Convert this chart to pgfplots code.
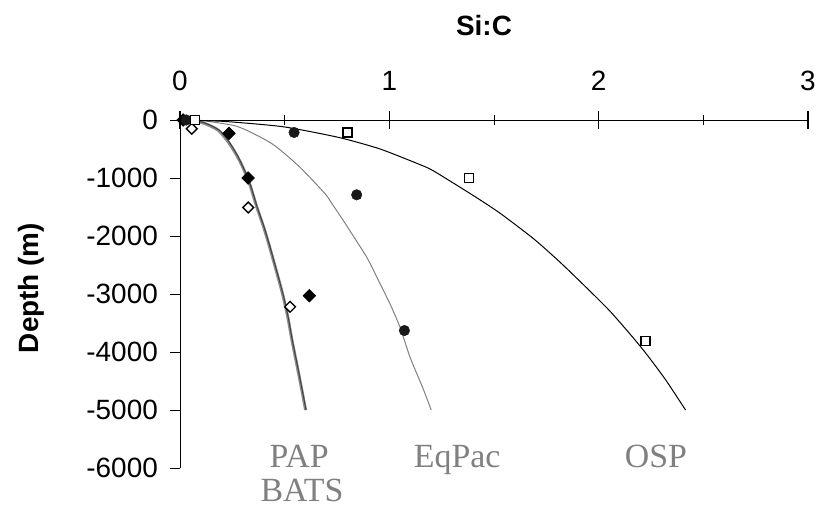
\documentclass[border=0pt]{standalone}
\usepackage{pgfplots}
\pgfplotsset{compat=1.18}
\usepackage{fontspec}
\setmainfont{Liberation Sans}
\newfontfamily\seriffont{Liberation Serif}
\definecolor{lblgray}{HTML}{808080}
\definecolor{thickgray}{HTML}{8C8C8C}
\definecolor{darkline}{HTML}{404040}
\begin{document}
\begin{tikzpicture}
\begin{axis}[
  scale only axis, width=628bp, height=348bp,
  xmin=0, xmax=3, ymin=-6000, ymax=0,
  axis x line*=top, axis y line*=left,
  axis line style={line width=0.9bp, black},
  clip=false,
  xtick={0,1,2,3}, xticklabels={0,1,2,3},
  minor xtick={0.5,1.5,2.5},
  xtick align=center,
  major tick length=17bp, minor tick length=10bp,
  major x tick style={line width=1.4bp, black},
  minor x tick style={line width=0.9bp, black},
  ytick={-6000,-5000,-4000,-3000,-2000,-1000,0},
  yticklabels={-6000,-5000,-4000,-3000,-2000,-1000,0},
  minor ytick={-6000,-5000,-4000,-3000,-2000,-1000,0},
  ytick align=outside,
  major y tick style={draw=none},
  minor y tick style={line width=0.9bp, black},
  ticklabel style={font=\fontsize{28}{28}\selectfont},
  xticklabel style={anchor=base, inner sep=0pt, yshift=21bp},
  yticklabel style={anchor=east, inner sep=0pt, xshift=-5bp},
]
% PAP / BATS curves
\addplot[thickgray, line width=3bp, smooth, tension=0.4] coordinates {
(0,0) (0.06,-8) (0.12,-63) (0.183,-178) (0.231,-380) (0.271,-609) (0.303,-839) (0.335,-1126) (0.365,-1480) (0.40,-1850) (0.425,-2150) (0.46,-2600) (0.49,-3000) (0.515,-3400) (0.535,-3800) (0.56,-4250) (0.58,-4620) (0.60,-5000)};
\addplot[darkline, line width=1bp, smooth, tension=0.4] coordinates {
(0,0) (0.07,-8) (0.128,-63) (0.189,-178) (0.235,-380) (0.274,-609) (0.305,-839) (0.337,-1126) (0.367,-1480) (0.402,-1850) (0.427,-2150) (0.462,-2600) (0.492,-3000) (0.517,-3400) (0.537,-3800) (0.562,-4250) (0.582,-4620) (0.602,-5000)};
% EqPac
\addplot[lblgray, line width=1bp, smooth, tension=0.4] coordinates {
(0,0) (0.1,-8) (0.263,-100) (0.36,-250) (0.454,-445) (0.573,-814) (0.693,-1272) (0.733,-1480) (0.78,-1733) (0.892,-2366) (0.948,-2767) (1.003,-3169) (1.051,-3572) (1.1,-4100) (1.16,-4620) (1.2,-5000)};
% OSP
\addplot[black, line width=1bp, smooth, tension=0.4] coordinates {
(0,0) (0.2,-22) (0.383,-75) (0.5,-120) (0.637,-210) (0.78,-319) (0.956,-500) (1.147,-770) (1.212,-880) (1.40,-1300) (1.53,-1610) (1.69,-2050) (1.818,-2460) (1.95,-2920) (2.05,-3280) (2.145,-3670) (2.225,-4020) (2.32,-4480) (2.415,-5000)};
% data points
\addplot[only marks, mark=square*, mark size=4.5bp, mark options={rotate=45, draw=black, fill=black, line width=0.5bp}] coordinates {
(0.015,0) (0.234,-230) (0.325,-1000) (0.618,-3030)};
\addplot[only marks, mark=square*, mark size=3.8bp, mark options={rotate=45, draw=black, fill=white, line width=1.4bp}] coordinates {
(0.056,-150) (0.326,-1510) (0.526,-3220)};
\addplot[only marks, mark=*, mark size=5.3bp, mark options={draw=black!90, fill=black!90}] coordinates {
(0.03,0) (0.545,-215) (0.844,-1290) (1.072,-3630)};
\addplot[only marks, mark=square*, mark size=4.5bp, mark options={draw=black, fill=white, line width=1.5bp}] coordinates {
(0.072,0) (0.80,-215) (1.381,-1000) (2.223,-3810)};
% labels
\node[anchor=base, lblgray, font=\seriffont\fontsize{34}{34}\selectfont, inner sep=0pt] at (axis cs:0.569,-5983) {PAP};
\node[anchor=base, lblgray, font=\seriffont\fontsize{34}{34}\selectfont, inner sep=0pt] at (axis cs:0.583,-6586) {BATS};
\node[anchor=base, lblgray, font=\seriffont\fontsize{34}{34}\selectfont, inner sep=0pt] at (axis cs:1.324,-5983) {EqPac};
\node[anchor=base, lblgray, font=\seriffont\fontsize{34}{34}\selectfont, inner sep=0pt] at (axis cs:2.274,-5983) {OSP};
\end{axis}
\node[anchor=base, inner sep=0pt, font=\bfseries\fontsize{28}{28}\selectfont] at (304bp,432bp) {Si:C};
\node[anchor=base, rotate=90, inner sep=0pt, font=\bfseries\fontsize{28}{28}\selectfont] at (-141bp,180bp) {Depth (m)};
\pgfresetboundingbox
\path (-180bp,-40bp) rectangle (639bp,468bp);
\end{tikzpicture}
\end{document}
